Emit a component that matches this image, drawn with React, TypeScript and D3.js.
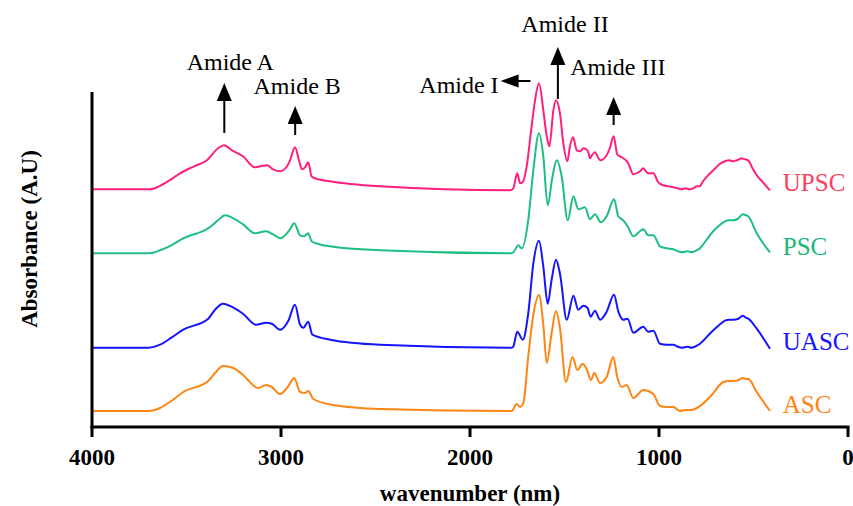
import React from "react";
import * as d3 from "d3";

// FTIR spectra of collagen extracts, stacked with vertical offsets.
// Each point: [wavenumber (cm⁻¹ on the axis), relative absorbance].
const upscData: [number, number][] = [
  [4000, 0], [3700, 0], [3672, 0.008], [3640, 0.035], [3590, 0.09], [3534, 0.16], [3460, 0.23], [3392, 0.29], [3333, 0.41], [3302, 0.44],
  [3259, 0.39], [3201, 0.33], [3138, 0.22], [3111, 0.23], [3074, 0.24], [3042, 0.2], [3005, 0.18],
  [2968, 0.23], [2952, 0.29], [2926, 0.42], [2905, 0.29], [2889, 0.2], [2873, 0.22], [2856, 0.27],
  [2838, 0.13], [2820, 0.11], [2741, 0.08], [2476, 0.03], [1788, -0.01], [1771, 0.01], [1750, 0.16],
  [1735, 0.06], [1721, 0.07], [1700, 0.23], [1674, 0.63], [1656, 0.89], [1635, 1.06], [1612, 0.79],
  [1594, 0.53], [1580, 0.43], [1559, 0.79], [1545, 0.89], [1524, 0.76], [1506, 0.46], [1485, 0.28],
  [1471, 0.43], [1455, 0.52], [1435, 0.39], [1418, 0.38], [1400, 0.41], [1385, 0.4], [1374, 0.37],
  [1365, 0.31], [1355, 0.34], [1339, 0.37], [1320, 0.31], [1310, 0.29], [1277, 0.34], [1259, 0.42],
  [1240, 0.53], [1221, 0.35], [1206, 0.33], [1189, 0.31], [1175, 0.29], [1163, 0.26], [1136, 0.15],
  [1100, 0.18], [1083, 0.21], [1065, 0.17], [1057, 0.16], [1030, 0.16], [1004, 0.07], [977, 0.04],
  [950, 0.03], [924, 0.02], [900, 0.01], [880, 0.0], [860, 0.01], [840, 0.0], [819, 0.01],
  [800, 0.03], [783, 0.03], [774, 0.06], [745, 0.13], [713, 0.19], [680, 0.25], [651, 0.28],
  [630, 0.29], [607, 0.28], [590, 0.29], [575, 0.3], [563, 0.31], [545, 0.3], [528, 0.29],
  [505, 0.21], [483, 0.14], [450, 0.07], [413, -0.01],
];

const pscData: [number, number][] = [
  [4000, 0], [3700, 0], [3672, 0.008], [3640, 0.03], [3580, 0.08], [3517, 0.15], [3385, 0.25], [3333, 0.33], [3296, 0.38],
  [3252, 0.35], [3201, 0.29], [3138, 0.2], [3079, 0.22], [3042, 0.19], [3005, 0.15], [2956, 0.23],
  [2930, 0.3], [2899, 0.18], [2878, 0.17], [2856, 0.2], [2838, 0.12], [2741, 0.07], [2476, 0.03],
  [1788, 0.0], [1771, 0.01], [1744, 0.08], [1726, 0.05], [1692, 0.33], [1665, 0.83], [1635, 1.2],
  [1612, 0.97], [1589, 0.48], [1565, 0.75], [1541, 0.93], [1515, 0.77], [1483, 0.33], [1453, 0.57],
  [1427, 0.44], [1392, 0.46], [1365, 0.34], [1339, 0.39], [1308, 0.31], [1277, 0.37], [1238, 0.54],
  [1215, 0.37], [1189, 0.33], [1166, 0.27], [1136, 0.17], [1083, 0.24], [1057, 0.18], [1030, 0.18],
  [995, 0.07], [960, 0.05], [924, 0.04], [900, 0.02], [880, 0.01], [850, 0.02], [827, 0.01],
  [800, 0.03], [783, 0.05], [774, 0.07], [713, 0.22], [680, 0.28], [651, 0.32], [630, 0.33],
  [607, 0.33], [580, 0.35], [557, 0.39], [540, 0.38], [528, 0.37], [483, 0.2], [413, 0.01],
];

const uascData: [number, number][] = [
  [4000, 0], [3700, 0], [3672, 0.008], [3640, 0.03], [3580, 0.1], [3517, 0.18], [3385, 0.29], [3349, 0.38], [3307, 0.44],
  [3252, 0.4], [3201, 0.34], [3132, 0.23], [3079, 0.25], [3049, 0.24], [3005, 0.18], [2961, 0.27],
  [2926, 0.43], [2899, 0.23], [2882, 0.2], [2856, 0.26], [2834, 0.13], [2741, 0.08], [2476, 0.03],
  [1779, 0.0], [1771, 0.01], [1750, 0.16], [1721, 0.08], [1692, 0.34], [1665, 0.84], [1635, 1.07],
  [1612, 0.81], [1589, 0.44], [1568, 0.68], [1545, 0.88], [1524, 0.74], [1488, 0.28], [1453, 0.52],
  [1427, 0.38], [1400, 0.42], [1379, 0.4], [1361, 0.31], [1339, 0.37], [1312, 0.28], [1277, 0.36],
  [1238, 0.53], [1215, 0.36], [1189, 0.28], [1166, 0.29], [1136, 0.15], [1083, 0.21], [1057, 0.16],
  [1030, 0.17], [995, 0.04], [960, 0.03], [924, 0.03], [900, 0.01], [880, 0.0], [850, 0.01],
  [827, 0.0], [800, 0.02], [783, 0.04], [721, 0.16], [680, 0.23], [651, 0.27], [630, 0.28],
  [607, 0.28], [580, 0.29], [557, 0.32], [540, 0.3], [528, 0.29], [483, 0.19], [413, -0.01],
];

const ascData: [number, number][] = [
  [4000, 0], [3700, 0], [3672, 0.008], [3640, 0.03], [3580, 0.1], [3517, 0.19], [3385, 0.3], [3349, 0.38], [3307, 0.45],
  [3252, 0.43], [3201, 0.36], [3120, 0.23], [3079, 0.26], [3049, 0.24], [3005, 0.17], [2961, 0.25],
  [2930, 0.33], [2899, 0.19], [2873, 0.18], [2856, 0.2], [2829, 0.12], [2723, 0.06], [2476, 0.02],
  [1779, 0.0], [1753, 0.07], [1735, 0.04], [1718, 0.08], [1692, 0.54], [1665, 0.96], [1635, 1.16],
  [1612, 0.86], [1594, 0.48], [1568, 0.78], [1545, 1.0], [1524, 0.83], [1492, 0.29], [1458, 0.54],
  [1432, 0.41], [1404, 0.47], [1383, 0.42], [1360, 0.31], [1342, 0.38], [1312, 0.28], [1277, 0.34],
  [1242, 0.54], [1221, 0.34], [1197, 0.24], [1171, 0.26], [1136, 0.13], [1083, 0.21], [1030, 0.17],
  [995, 0.05], [960, 0.04], [924, 0.04], [889, 0.0], [860, 0.01], [827, 0.01], [800, 0.03],
  [783, 0.05], [721, 0.16], [660, 0.29], [630, 0.3], [607, 0.3], [580, 0.31], [557, 0.33],
  [540, 0.32], [528, 0.32], [483, 0.19], [413, 0.0],
];

const seriesNames = ["UPSC", "PSC", "UASC", "ASC"];
const seriesData = [upscData, pscData, uascData, ascData];
const seriesOffsets = [2.377, 1.737, 0.793, 0.16];
const lineColors = ["#ff1f7d", "#1dbf80", "#1414ff", "#ff8412"];
const labelColors = ["#f9405c", "#18b676", "#1414ff", "#ff8412"];

const xTicks = [4000, 3000, 2000, 1000, 0];

// Band annotation labels
const bandNames = ["Amide A", "Amide B", "Amide I", "Amide II", "Amide III"];

const W = 853;
const H = 506;
const FONT = "'Liberation Serif', 'Times New Roman', Times, serif";

export default function App() {
  const x = d3.scaleLinear().domain([4000, 0]).range([92, 848]);
  const y = d3.scaleLinear().domain([0, 3.35]).range([427, 92]);

  const line = d3
    .line<[number, number]>()
    .x((d) => x(d[0]))
    .y((d) => d[1])
    .curve(d3.curveMonotoneX);

  const paths = seriesData.map((data, i) =>
    line(
      data
        .slice()
        .sort((a, b) => b[0] - a[0])
        .map((d) => [d[0], y(d[1] + seriesOffsets[i])] as [number, number])
    )
  );

  const labelX = x(345);

  const upArrow = (wx: number, tipV: number, tailV: number) => {
    const cx = x(wx);
    const ty = y(tipV);
    const by = y(tailV);
    const headH = 18;
    const headW = 7.5;
    return (
      <g>
        <line x1={cx} x2={cx} y1={ty + headH - 1} y2={by} stroke="#000" strokeWidth={2} />
        <path d={`M${cx},${ty} L${cx - headW},${ty + headH} L${cx + headW},${ty + headH} Z`} fill="#000" />
      </g>
    );
  };

  const leftArrow = (tipW: number, tailW: number, v: number) => {
    const tx = x(tipW);
    const ex = x(tailW);
    const cy = y(v);
    const headL = 18;
    const headW = 6.5;
    return (
      <g>
        <line x1={tx + headL - 1} x2={ex} y1={cy} y2={cy} stroke="#000" strokeWidth={2} />
        <path d={`M${tx},${cy} L${tx + headL},${cy - headW} L${tx + headL},${cy + headW} Z`} fill="#000" />
      </g>
    );
  };

  return (
    <div style={{ position: "fixed", left: 0, top: 0, width: W, height: H, background: "#fff" }}>
      <svg width={W} height={H} viewBox={`0 0 ${W} ${H}`} style={{ display: "block" }}>
        <rect width={W} height={H} fill="#fff" />

        {paths.map((d, i) => (
          <path key={seriesNames[i]} d={d ?? ""} fill="none" stroke={lineColors[i]} strokeWidth={2} strokeLinejoin="round" />
        ))}

        {seriesNames.map((name, i) => (
          <text
            key={name}
            x={labelX}
            y={y(seriesOffsets[i]) + 2}
            fontFamily={FONT}
            fontSize={25}
            fill={labelColors[i]}
          >
            {name}
          </text>
        ))}

        {/* Axes */}
        <line x1={x(4000)} x2={x(4000)} y1={92} y2={y(0) + 1.5} stroke="#000" strokeWidth={3} />
        <line x1={x(4000) - 1.5} x2={x(0) + 1.5} y1={y(0)} y2={y(0)} stroke="#000" strokeWidth={3} />
        {xTicks.map((t) => (
          <g key={t}>
            <line x1={x(t)} x2={x(t)} y1={y(0)} y2={y(0) + 10} stroke="#000" strokeWidth={3} />
            <text
              x={x(t)}
              y={465}
              textAnchor="middle"
              fontFamily={FONT}
              fontWeight="bold"
              fontSize={23}
              fill="#000"
            >
              {t}
            </text>
          </g>
        ))}
        <text x={(x(4000) + x(0)) / 2} y={501} textAnchor="middle" fontFamily={FONT} fontWeight="bold" fontSize={23} fill="#000">
          wavenumber (nm)
        </text>
        <text
          transform={`translate(37, 239) rotate(-90)`}
          textAnchor="middle"
          fontFamily={FONT}
          fontWeight="bold"
          fontSize={23}
          fill="#000"
        >
          Absorbance (A.U)
        </text>

        {/* Band annotations */}
        <text x={x(3300) + 6} y={70} textAnchor="middle" fontFamily={FONT} fontSize={24} fill="#000">
          {bandNames[0]}
        </text>
        {upArrow(3300, 3.44, 2.94)}

        <text x={x(2925) + 2} y={94} textAnchor="middle" fontFamily={FONT} fontSize={24} fill="#000">
          {bandNames[1]}
        </text>
        {upArrow(2925, 3.21, 2.92)}

        <text x={x(1838) - 2} y={93} textAnchor="end" fontFamily={FONT} fontSize={24} fill="#000">
          {bandNames[2]}
        </text>
        {leftArrow(1838, 1680, 3.46)}

        <text x={x(1545) + 9} y={32} textAnchor="middle" fontFamily={FONT} fontSize={24} fill="#000">
          {bandNames[3]}
        </text>
        {upArrow(1535, 3.8, 3.28)}

        <text x={x(1470)} y={75} fontFamily={FONT} fontSize={24} fill="#000">
          {bandNames[4]}
        </text>
        {upArrow(1240, 3.3, 3.02)}
      </svg>
    </div>
  );
}
